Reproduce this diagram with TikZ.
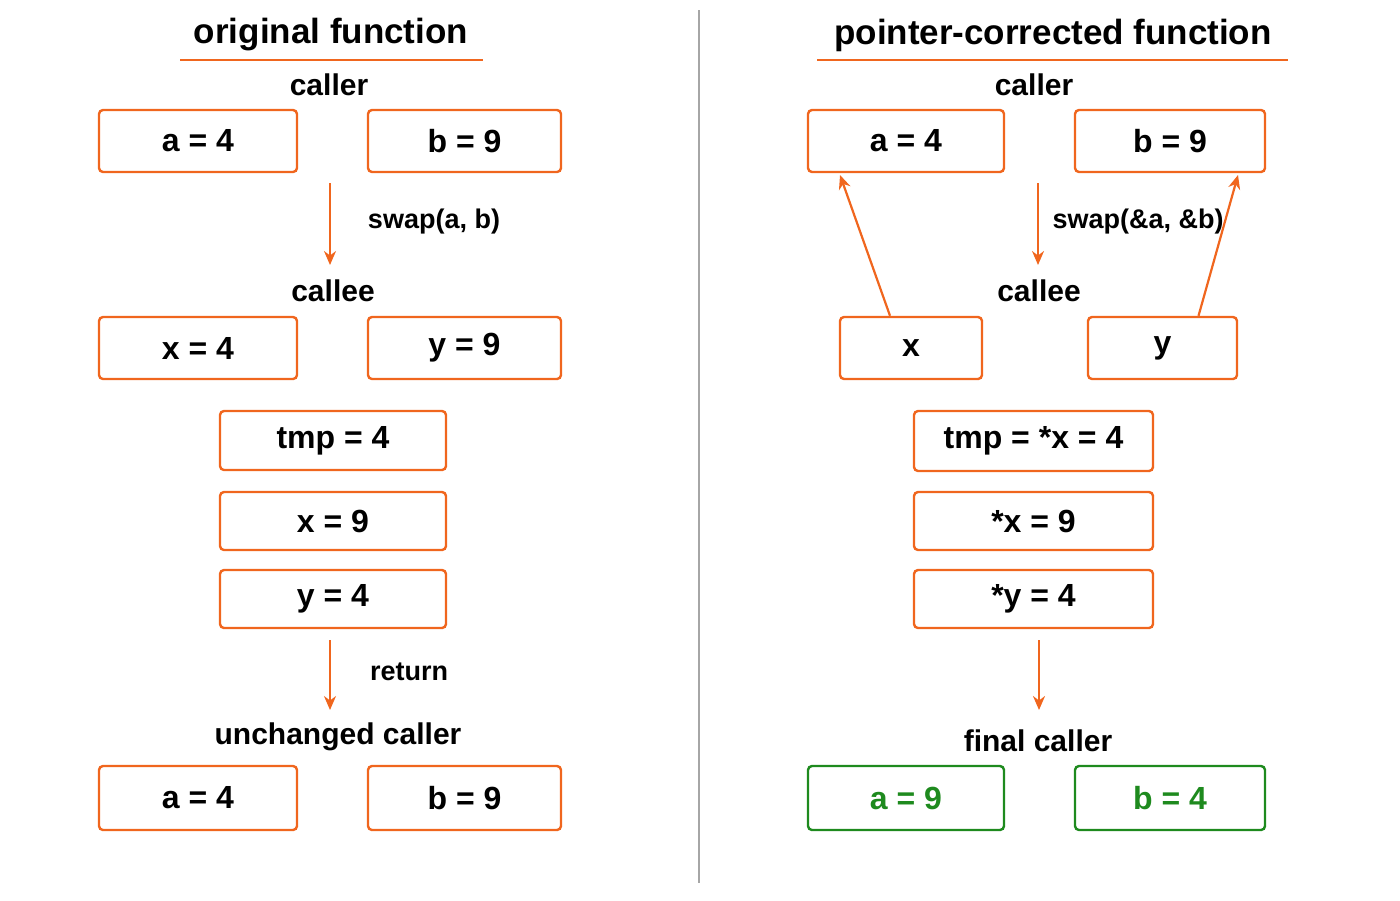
\documentclass[tikz,border=0pt]{standalone}
\usepackage{fontspec}
\setmainfont{Liberation Sans}
\usetikzlibrary{calc,arrows.meta}
\definecolor{org}{HTML}{F0661E}
\definecolor{grn}{HTML}{1E8A1E}
\begin{document}
\begin{tikzpicture}[x=0.5pt,y=-0.5pt,
  bx/.style={draw=org,line width=1.2pt,rounded corners=2pt,inner sep=0pt,font=\fontsize{16}{18}\selectfont\bfseries},
  gbx/.style={bx,draw=grn,text=grn},
  ttl/.style={font=\fontsize{17.5}{20}\selectfont\bfseries},
  lbl/.style={font=\fontsize{15}{18}\selectfont\bfseries},
  sm/.style={font=\fontsize{13.5}{16}\selectfont\bfseries},
  arr/.style={draw=org,line width=1.1pt,-{Stealth[length=7pt,width=6pt]}}]
\newcommand\bxx[7][bx]{%
  \pgfmathsetmacro\ww{(#5-#3)*0.5}\pgfmathsetmacro\hh{(#6-#4)*0.5}%
  \node[#1,minimum width=\ww pt,minimum height=\hh pt] (#2) at ({(#3+#5)/2},{(#4+#6)/2}) {#7};}
\useasboundingbox (0,0) rectangle (1400,900);
\draw[gray!70,line width=0.8pt] (699,10) -- (699,883);
% left
\node[ttl] (lt) at (331,35) {original function};
\draw[org,line width=1.3pt] (180,60) -- (483,60);
\node[lbl] (lc) at (329,85) {caller};
\bxx{la}{99}{110}{297}{172}{a = 4}
\bxx{lb}{368}{110}{561}{172}{b = 9}
\coordinate (l1) at (330,183); \coordinate (l2) at (330,265);
\draw[arr] (l1) -- (l2);
\node[sm] (ls) at (434,222) {swap(a, b)};
\node[lbl] (lce) at (333,291) {callee};
\bxx{lx}{99}{317}{297}{379}{x = 4}
\bxx{ly}{368}{317}{561}{379}{y = 9}
\bxx{lt1}{220}{411}{446}{470}{tmp = 4}
\bxx{lt2}{220}{492}{446}{550}{x = 9}
\bxx{lt3}{220}{570}{446}{628}{y = 4}
\coordinate (l3) at (330,640); \coordinate (l4) at (330,710);
\draw[arr] (l3) -- (l4);
\node[sm] (lr) at (409,672) {return};
\node[lbl] (luc) at (338,737) {unchanged caller};
\bxx{lfa}{99}{766}{297}{830}{a = 4}
\bxx{lfb}{368}{766}{561}{830}{b = 9}
% right
\node[ttl] (rt) at (1053,35) {pointer-corrected function};
\draw[org,line width=1.3pt] (817,60) -- (1288,60);
\node[lbl] (rc) at (1034,85) {caller};
\bxx{ra}{808}{110}{1004}{172}{a = 4}
\bxx{rb}{1075}{110}{1265}{172}{b = 9}
\coordinate (r1) at (1038,183); \coordinate (r2) at (1038,265);
\draw[arr] (r1) -- (r2);
\node[sm] (rs) at (1138,222) {swap(\&a, \&b)};
\node[lbl] (rce) at (1039,291) {callee};
\bxx{rx}{840}{317}{982}{379}{x}
\bxx{ry}{1088}{317}{1237}{379}{y}
\coordinate (ta) at (840,175); \coordinate (tb) at (1238,175);
\draw[arr] ([xshift=-10.5pt]rx.north) -- (ta);
\draw[arr] ([xshift=18pt]ry.north) -- (tb);
\bxx{rt1}{914}{411}{1153}{471}{tmp = *x = 4}
\bxx{rt2}{914}{492}{1153}{550}{*x = 9}
\bxx{rt3}{914}{570}{1153}{628}{*y = 4}
\coordinate (r3) at (1039,640); \coordinate (r4) at (1039,710);
\draw[arr] (r3) -- (r4);
\node[lbl] (rfc) at (1038,741) {final caller};
\bxx[gbx]{rfa}{808}{766}{1004}{830}{a = 9}
\bxx[gbx]{rfb}{1075}{766}{1265}{830}{b = 4}
\end{tikzpicture}
\end{document}
